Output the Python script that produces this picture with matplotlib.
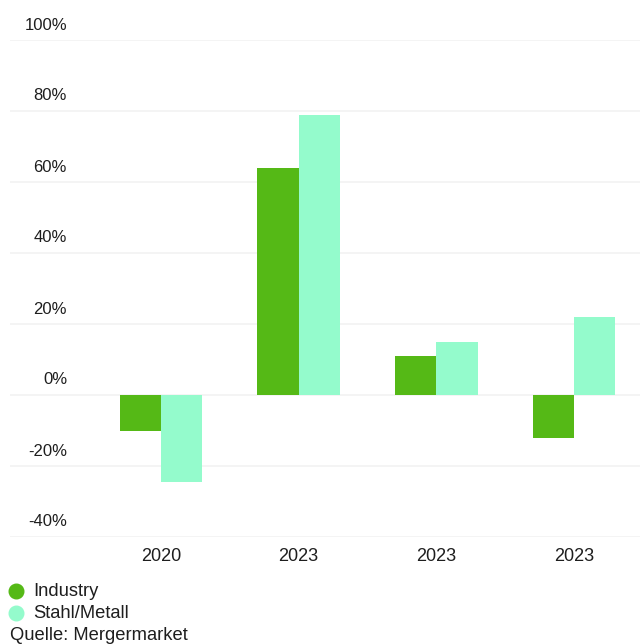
import numpy as np
import matplotlib.pyplot as plt
from matplotlib.lines import Line2D
from matplotlib import transforms

plt.rcParams['font.family'] = ['Liberation Sans', 'DejaVu Sans']

# Data
years = ['2020', '2023', '2023', '2023']
industry = [-10, 64, 11, -12]
stahl = [-24.5, 79, 15, 22]
y_ticks = [-40, -20, 0, 20, 40, 60, 80, 100]
series_names = ['Industry', 'Stahl/Metall']

green = '#55b916'
mint = '#94fbcc'
text_col = '#1e1e1e'

fig = plt.figure(figsize=(6.4, 6.44), dpi=100)
ax = fig.add_axes([10 / 640, 1 - 537 / 644, 630 / 640, 497 / 644])

x = np.arange(len(years))
w = 0.3
ax.bar(x - w / 2, industry, width=w, color=green, zorder=3)
ax.bar(x + w / 2, stahl, width=w, color=mint, zorder=3)

ax.set_xlim(-1.097, 3.48)
ax.set_ylim(-40, 100)

# gridlines
for t in y_ticks:
    ax.axhline(t, color='#f2f2f2', linewidth=1.2, zorder=1)

# y labels sit above their gridlines
lab_tr = transforms.offset_copy(ax.get_yaxis_transform(), fig=fig, x=0, y=15, units='dots')
for t in y_ticks:
    ax.text((67 - 10) / 630, t, f'{t}%', transform=lab_tr, ha='right', va='center',
            fontsize=12, color=text_col)

ax.set_yticks([])
ax.set_xticks(x)
ax.set_xticklabels(years, fontsize=13, color=text_col)
ax.tick_params(axis='x', length=0, pad=8)
for s in ax.spines.values():
    s.set_visible(False)

# legend + source, laid out by hand below the plot
for i, (name, col) in enumerate(zip(series_names, [green, mint])):
    yy = 1 - (591 + 22 * i) / 644
    fig.add_artist(Line2D([16 / 640], [yy], marker='o', markersize=10.5, color=col,
                          linestyle='', transform=fig.transFigure))
    fig.text(33 / 640, yy, name, fontsize=13.2, color=text_col, va='center', ha='left')
fig.text(10 / 640, 1 - 635 / 644, 'Quelle: Mergermarket', fontsize=13.2, color=text_col,
         va='center', ha='left')

fig.savefig('out.png', dpi=100)
